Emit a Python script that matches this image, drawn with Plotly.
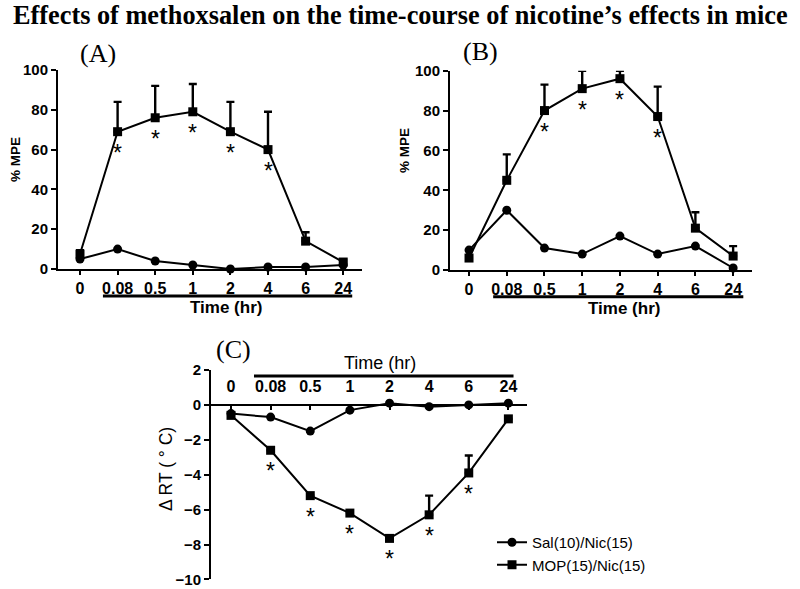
import plotly.graph_objects as go

W, H = 800, 589

time_labels = ["0", "0.08", "0.5", "1", "2", "4", "6", "24"]
xpos = list(range(len(time_labels)))

# Panel A (% MPE)
a_sal = [5, 10, 4, 2, 0, 1, 1, 2]
a_mop = [7.5, 69, 76, 79, 69, 60, 14, 3.5]
a_mop_err = [2, 15, 16, 14, 15, 19, 4.5, 1]
a_stars = [False, True, True, True, True, True, False, False]

# Panel B (% MPE)
b_sal = [10, 30, 11, 8, 17, 8, 12, 1]
b_mop = [6, 45, 80, 91, 96, 77, 21, 7]
b_mop_err = [0, 13, 13, 9, 4, 15, 8, 5]
b_stars = [False, False, True, True, True, True, False, False]

# Panel C (delta rectal temperature)
c_sal = [-0.5, -0.7, -1.5, -0.3, 0.1, -0.1, 0.0, 0.1]
c_mop = [-0.6, -2.6, -5.2, -6.2, -7.65, -6.3, -3.9, -0.8]
c_mop_err = [0, 0, 0, 0, 0, 1.1, 1.0, 0]
c_stars = [False, True, True, True, True, True, True, False]

sal_name = "Sal(10)/Nic(15)"
mop_name = "MOP(15)/Nic(15)"

def px(x):
    return x / W

def py(y):
    return 1 - y / H

fig = go.Figure()

panels = [
    ("x", "y", a_sal, a_mop, a_mop_err, a_stars, False),
    ("x2", "y2", b_sal, b_mop, b_mop_err, b_stars, False),
    ("x3", "y3", c_sal, c_mop, c_mop_err, c_stars, True),
]

for xa, ya, sal, mop, err, stars, show in panels:
    fig.add_trace(go.Scatter(
        x=xpos, y=sal, xaxis=xa, yaxis=ya, name=sal_name, showlegend=show,
        mode="lines+markers", cliponaxis=False,
        line=dict(color="black", width=2),
        marker=dict(symbol="circle", size=9, color="black"),
    ))
    fig.add_trace(go.Scatter(
        x=xpos, y=mop, xaxis=xa, yaxis=ya, name=mop_name, showlegend=show,
        mode="lines+markers", cliponaxis=False,
        line=dict(color="black", width=2),
        marker=dict(symbol="square", size=9, color="black"),
        error_y=dict(type="data", array=err, arrayminus=[0] * len(err),
                     symmetric=False, color="black", thickness=2.4, width=4),
    ))
    for x, y, s in zip(xpos, mop, stars):
        if s:
            fig.add_annotation(x=x, y=y, xref=xa, yref=ya, text="*", showarrow=False,
                               yshift=-21, xanchor="center", yanchor="middle",
                               font=dict(family="Arial, Liberation Sans", size=23, color="black"))

tick_font = dict(family="Arial, Liberation Sans", size=16, color="black", weight="bold")
ytick_font = dict(family="Arial, Liberation Sans", size=15, color="black", weight="bold")

common_x = dict(tickmode="array", tickvals=xpos, ticktext=time_labels,
                showline=True, linecolor="black", linewidth=2, showgrid=False,
                zeroline=False, ticks="outside", ticklen=4, tickwidth=2,
                tickcolor="black", tickfont=tick_font, automargin=False)
common_y = dict(showline=True, linecolor="black", linewidth=2, showgrid=False,
                zeroline=False, ticks="outside", ticklen=5, tickwidth=2,
                tickcolor="black", tickfont=ytick_font, automargin=False)

fig.update_layout(
    template="none",
    width=W, height=H,
    margin=dict(l=0, r=0, t=0, b=0, pad=0),
    paper_bgcolor="white", plot_bgcolor="white",
    showlegend=True,
    legend=dict(x=px(492), y=py(526), xanchor="left", yanchor="top",
                font=dict(family="Arial, Liberation Sans", size=15, color="black"),
                bgcolor="rgba(0,0,0,0)", tracegroupgap=4),
    xaxis=dict(domain=[px(58), px(362)], range=[-0.585, 7.5], anchor="y",
               ticklabelstandoff=0, **common_x),
    yaxis=dict(domain=[py(269), py(70)], range=[0, 100], anchor="x",
               tickvals=[0, 20, 40, 60, 80, 100], **common_y),
    xaxis2=dict(domain=[px(450), px(752)], range=[-0.504, 7.5], anchor="y2",
                ticklabelstandoff=0, **common_x),
    yaxis2=dict(domain=[py(270), py(70.7)], range=[0, 100], anchor="x2",
                tickvals=[0, 20, 40, 60, 80, 100], **common_y),
    xaxis3=dict(domain=[px(211), px(527)], range=[-0.505, 7.47], anchor="free",
                position=py(404.7), side="top", ticklabelstandoff=5,
                **{**common_x, "ticks": "inside"}),
    yaxis3=dict(domain=[py(579.4), py(370)], range=[-10, 2], anchor="x3",
                tickvals=[2, 0, -2, -4, -6, -8, -10], **common_y),
)

# bars under/over the time labels
bars = [("x", 0.61, 7.24, 296), ("x2", 0.64, 7.27, 296.7), ("x3", 0.58, 7.13, 376)]
for xr, x0, x1, yy in bars:
    fig.add_shape(type="line", xref=xr, yref="paper", x0=x0, x1=x1, y0=py(yy), y1=py(yy),
                  line=dict(color="black", width=3))

# axis titles
mpe_font = dict(family="Arial, Liberation Sans", size=13.5, color="black", weight="bold")
for x, y in [(15, 160), (404, 151)]:
    fig.add_annotation(text="% MPE", x=px(x), y=py(y), xref="paper", yref="paper",
                       showarrow=False, textangle=-90, font=mpe_font,
                       xanchor="center", yanchor="middle")
fig.add_annotation(text="Δ RT ( ° C)", x=px(166), y=py(469), xref="paper", yref="paper",
                   showarrow=False, textangle=-90,
                   font=dict(family="Arial, Liberation Sans", size=17.5, color="black"),
                   xanchor="center", yanchor="middle")

ann_font_b = dict(family="Arial, Liberation Sans", size=17, color="black", weight="bold")
fig.add_annotation(text="Time (hr)", x=px(226), y=py(307), xref="paper", yref="paper",
                   showarrow=False, font=ann_font_b, xanchor="center", yanchor="middle")
fig.add_annotation(text="Time (hr)", x=px(624), y=py(308), xref="paper", yref="paper",
                   showarrow=False, font=ann_font_b, xanchor="center", yanchor="middle")
fig.add_annotation(text="Time (hr)", x=px(380), y=py(363), xref="paper", yref="paper",
                   showarrow=False, font=dict(family="Arial, Liberation Sans", size=18, color="black"),
                   xanchor="center", yanchor="middle")

serif = "Times New Roman, Liberation Serif"
for lab, x, y in [("(A)", 98, 54), ("(B)", 481, 52), ("(C)", 233, 349)]:
    fig.add_annotation(text=lab, x=px(x), y=py(y), xref="paper", yref="paper",
                       showarrow=False, font=dict(family=serif, size=26, color="black"),
                       xanchor="center", yanchor="middle")

fig.add_annotation(text="Effects of methoxsalen on the time-course of nicotine’s effects in mice",
                   x=0.5, y=py(15), xref="paper", yref="paper", showarrow=False,
                   font=dict(family=serif, size=26.3, color="black", weight="bold"),
                   xanchor="center", yanchor="middle")

fig.write_html("out.html", config={"displayModeBar": False},
               post_script="document.body.style.margin='0px';")
